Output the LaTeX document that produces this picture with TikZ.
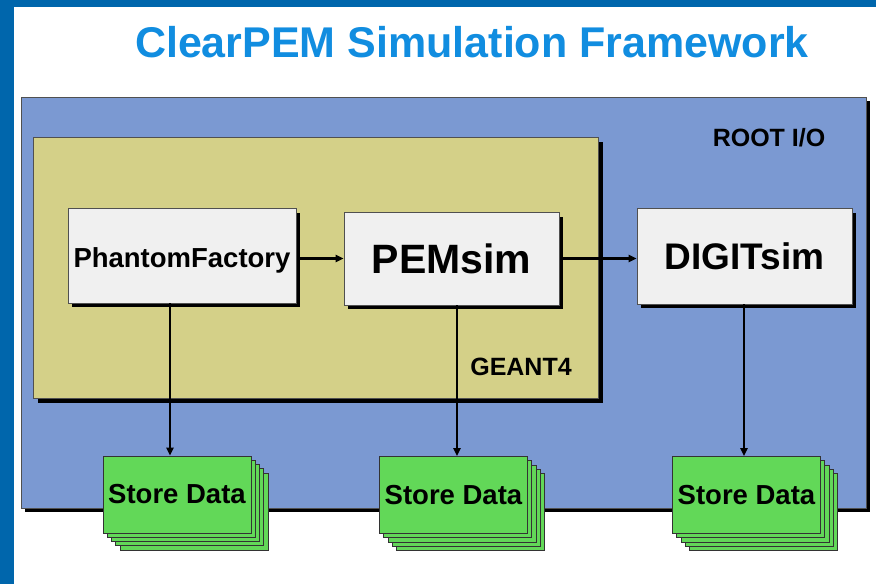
\documentclass[tikz,border=0pt]{standalone}
\usepackage{fontspec}
\setmainfont{Liberation Sans}
\usetikzlibrary{arrows.meta,calc}
\definecolor{barblue}{HTML}{0066AC}
\definecolor{titleblue}{HTML}{118DE0}
\definecolor{rootblue}{HTML}{7B99D2}
\definecolor{geantyellow}{HTML}{D4D088}
\definecolor{boxgray}{HTML}{F0F0F0}
\definecolor{storegreen}{HTML}{62D858}
\definecolor{edgegray}{HTML}{505050}
\tikzset{
  modbox/.style={draw=edgegray, line width=0.8pt, fill=boxgray, inner sep=0pt, font=\bfseries},
  sheet/.style={draw=black!80, line width=0.8pt, fill=storegreen, minimum width=148pt, minimum height=77pt, inner sep=0pt},
  arr/.style={line width=2.6pt, -{Triangle[length=8pt,width=7pt]}},
  lbl/.style={font=\bfseries\fontsize{25}{25}\selectfont, inner sep=0pt}
}
\newcommand{\stackbox}[3]{%
  \foreach \k in {4,3,2,1} {
    \node[sheet] at ($(#2)+(4.25*\k,4.25*\k)$) {};
  }
  \node[sheet, font=\bfseries\fontsize{27.5}{27.5}\selectfont] (#1) at (#2) {#3};
}
\begin{document}
\begin{tikzpicture}[x=1pt,y=-1pt]
\useasboundingbox (0,0) rectangle (876,584);
\fill[white] (0,0) rectangle (876,584);
% frame bars
\fill[barblue] (0,0) rectangle (876,7);
\fill[barblue] (0,0) rectangle (14,584);
% title
\node[text=titleblue, font=\bfseries\fontsize{43}{43}\selectfont, inner sep=0pt] (title) at (472,42) {ClearPEM Simulation Framework};
% ROOT I/O container
\fill[black] (25,101) rectangle (870,512);
\filldraw[fill=rootblue, draw=edgegray, line width=0.8pt] (21,97) rectangle (866,508);
\node[lbl] (root) at (769,138) {ROOT I/O};
% GEANT4 container
\fill[black] (38,142) rectangle (603,403);
\filldraw[fill=geantyellow, draw=edgegray, line width=0.8pt] (33,137) rectangle (598,398);
\node[lbl] (geant) at (521,367) {GEANT4};
% modules
\fill[black] (72,213) rectangle (300,307);
\node[modbox, minimum width=228pt, minimum height=95pt, font=\bfseries\fontsize{27.5}{27.5}\selectfont, text height=30pt, text depth=5.6pt] (pf) at (182,255.5) {PhantomFactory};
\fill[black] (348,217) rectangle (563,309);
\node[modbox, minimum width=215pt, minimum height=93pt, font=\bfseries\fontsize{41}{41}\selectfont] (pem) at (451.5,258.5) {PEMsim};
\fill[black] (641,213) rectangle (856,308);
\node[modbox, minimum width=215pt, minimum height=96pt, font=\bfseries\fontsize{37}{37}\selectfont] (digit) at (744.5,256) {DIGITsim};
% store data stacks
\coordinate (c1) at (177,494.5);
\coordinate (c2) at (453.5,495);
\coordinate (c3) at (746.5,495);
\stackbox{s1}{c1}{Store Data}
\stackbox{s2}{c2}{Store Data}
\stackbox{s3}{c3}{Store Data}
% connectors
\draw[arr] ([xshift=4pt]pem.west -| pf.east) -- (pem.west);
\draw[arr] ([xshift=4pt]pem.east) -- (pem.east -| digit.west);
\draw[arr] ([xshift=-12pt]pf.south) -- ([xshift=-7pt]s1.north);
\draw[arr] ([xshift=5.5pt]pem.south) -- ([xshift=3.5pt]s2.north);
\draw[arr] ([xshift=-0.5pt]digit.south) -- ([xshift=-2.5pt]s3.north);
\end{tikzpicture}
\end{document}
